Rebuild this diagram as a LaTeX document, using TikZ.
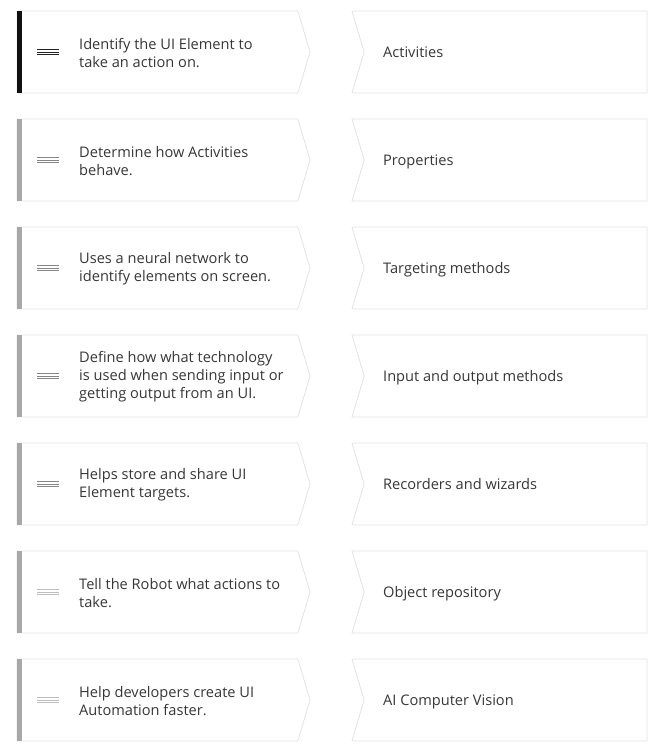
\documentclass[tikz,border=0pt]{standalone}
\usepackage{fontspec}
\setmainfont{Open Sans}
\usepackage{xcolor}
\usepackage{tikz}
\usetikzlibrary{shapes.symbols}
\definecolor{cEdge}{HTML}{E2E2E2}
\definecolor{cText}{HTML}{363636}
\definecolor{cBarOn}{HTML}{111111}
\definecolor{cBar}{HTML}{A8A8A8}
\definecolor{cIconOn}{HTML}{222222}
\definecolor{cIcon}{HTML}{858585}
\definecolor{cIconOff}{HTML}{BDBDBD}

\begin{document}
\begin{tikzpicture}[x=1pt, y=-1pt, every node/.style={font=\fontsize{14.6}{18}\selectfont, text=cText},
  stepcard/.style={signal, signal to=east, signal pointer angle=147, draw=cEdge, line width=0.8pt,
    minimum width=293pt, minimum height=82pt, inner sep=0pt, outer sep=0pt, anchor=west},
  namecard/.style={signal, signal to=nowhere, signal from=west, signal pointer angle=147, draw=cEdge, line width=0.8pt,
    minimum width=295pt, minimum height=82pt, inner sep=0pt, outer sep=0pt, anchor=east},
  desc/.style={anchor=west, align=left, inner sep=0pt},
  term/.style={anchor=base west, inner sep=0pt},
  bar/.style={fill=#1},
  icon/.style={draw=#1, line width=0.7pt}]
  \useasboundingbox (0,0) rectangle (658,747);
  % left column
  \node[stepcard] (s1) at (17,52) {};
  \node[stepcard] (s2) at (17,160) {};
  \node[stepcard] (s3) at (17,268) {};
  \node[stepcard] (s4) at (17,376) {};
  \node[stepcard] (s5) at (17,484) {};
  \node[stepcard] (s6) at (17,592) {};
  \node[stepcard] (s7) at (17,700) {};
  \fill[bar=cBarOn] (s1.north west) rectangle ([xshift=5pt]s1.south west);
  \fill[bar=cBar] (s2.north west) rectangle ([xshift=5pt]s2.south west);
  \fill[bar=cBar] (s3.north west) rectangle ([xshift=5pt]s3.south west);
  \fill[bar=cBar] (s4.north west) rectangle ([xshift=5pt]s4.south west);
  \fill[bar=cBar] (s5.north west) rectangle ([xshift=5pt]s5.south west);
  \fill[bar=cBar] (s6.north west) rectangle ([xshift=5pt]s6.south west);
  \fill[bar=cBar] (s7.north west) rectangle ([xshift=5pt]s7.south west);
  \draw[icon=cIconOn] ([xshift=20pt,yshift=2.6pt]s1.west) -- ++(22,0) ++(-22,2.6) -- ++(22,0) ++(-22,2.6) -- ++(22,0);
  \draw[icon=cIcon] ([xshift=20pt,yshift=2.6pt]s2.west) -- ++(22,0) ++(-22,2.6) -- ++(22,0) ++(-22,2.6) -- ++(22,0);
  \draw[icon=cIcon] ([xshift=20pt,yshift=2.6pt]s3.west) -- ++(22,0) ++(-22,2.6) -- ++(22,0) ++(-22,2.6) -- ++(22,0);
  \draw[icon=cIcon] ([xshift=20pt,yshift=2.6pt]s4.west) -- ++(22,0) ++(-22,2.6) -- ++(22,0) ++(-22,2.6) -- ++(22,0);
  \draw[icon=cIcon] ([xshift=20pt,yshift=2.6pt]s5.west) -- ++(22,0) ++(-22,2.6) -- ++(22,0) ++(-22,2.6) -- ++(22,0);
  \draw[icon=cIconOff] ([xshift=20pt,yshift=2.6pt]s6.west) -- ++(22,0) ++(-22,2.6) -- ++(22,0) ++(-22,2.6) -- ++(22,0);
  \draw[icon=cIconOff] ([xshift=20pt,yshift=2.6pt]s7.west) -- ++(22,0) ++(-22,2.6) -- ++(22,0) ++(-22,2.6) -- ++(22,0);
  \node[desc] (d1) at (79,53) {Identify the UI Element to\\take an action on.};
  \node[desc] (d2) at (79,161) {Determine how Activities\\behave.};
  \node[desc] (d3) at (79,269) {Uses a neural network to\\identify elements on screen.};
  \node[desc] (d4) at (79,377) {Define how what technology\\is used when sending input or\\getting output from an UI.};
  \node[desc] (d5) at (79,485) {Helps store and share UI\\Element targets.};
  \node[desc] (d6) at (79,593) {Tell the Robot what actions to\\take.};
  \node[desc] (d7) at (79,701) {Help developers create UI\\Automation faster.};
  % right column
  \node[namecard] (n1) at (647,52) {};
  \node[namecard] (n2) at (647,160) {};
  \node[namecard] (n3) at (647,268) {};
  \node[namecard] (n4) at (647,376) {};
  \node[namecard] (n5) at (647,484) {};
  \node[namecard] (n6) at (647,592) {};
  \node[namecard] (n7) at (647,700) {};
  \node[term] (t1) at (383,57.5) {Activities};
  \node[term] (t2) at (383,165.5) {Properties};
  \node[term] (t3) at (383,273.5) {Targeting methods};
  \node[term] (t4) at (383,381.5) {Input and output methods};
  \node[term] (t5) at (383,489.5) {Recorders and wizards};
  \node[term] (t6) at (383,597.5) {Object repository};
  \node[term] (t7) at (383,705.5) {AI Computer Vision};
\end{tikzpicture}
\end{document}
